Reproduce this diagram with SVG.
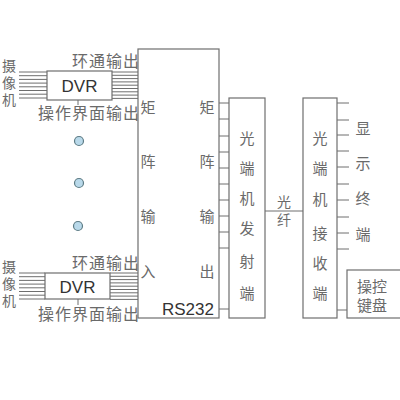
<svg xmlns="http://www.w3.org/2000/svg" width="400" height="400" viewBox="0 0 400 400">
<style>
.box{fill:#fff;stroke:#6e6e6e;stroke-width:1.2}
.ln{stroke:#6e6e6e;stroke-width:1;fill:none}
.cn{font-family:"Noto Sans CJK SC","Noto Sans CJK JP",sans-serif;font-size:15px;fill:#6a6a6a;text-anchor:middle;dominant-baseline:central}
.vt{font-family:"Noto Sans CJK SC","Noto Sans CJK JP",sans-serif;font-size:14px;fill:#6a6a6a;writing-mode:vertical-rl;text-orientation:upright;letter-spacing:3px;text-anchor:middle;dominant-baseline:central}
.cl{font-family:"Noto Sans CJK SC",sans-serif;font-size:16px;letter-spacing:1px;fill:#6a6a6a;text-anchor:end;dominant-baseline:central}
.en{font-family:"Liberation Sans",Arial,sans-serif;font-size:17px;fill:#333;text-anchor:middle;dominant-baseline:central}
.dot{fill:#b9d9ea;stroke:#5d7c85;stroke-width:1.2}
</style>
<rect width="400" height="400" fill="#fff"/>
<g id="connectors">
  <path class="ln" d="M19 72H47M19 75.7H47M19 79.4H47M19 83.1H47M19 86.8H47M19 90.5H47M19 94.2H47M19 98H47"/>
  <path class="ln" d="M112 72H138M112 75.3H138M112 78.6H138M112 81.9H138M112 85.2H138M112 88.5H138M112 91.8H138M112 95.1H138M112 98.4H138"/>
  <path class="ln" d="M78 100V105"/>
  <path class="ln" d="M19 273H45M19 276.7H45M19 280.4H45M19 284.1H45M19 287.8H45M19 291.5H45M19 295.2H45M19 299H45"/>
  <path class="ln" d="M110 273H138M110 276.3H138M110 279.6H138M110 282.9H138M110 286.2H138M110 289.5H138M110 292.8H138M110 296.1H138M110 299.4H138"/>
  <path class="ln" d="M78 299V305"/>
  <path class="ln" d="M219 103H229M219 119H229M219 136H229M219 152H229M219 168H229M219 184H229M219 200H229M219 216H229M219 232H229M219 248H229M219 309H229"/>
  <path class="ln" d="M265 211H303"/>
  <path class="ln" d="M337 103H349M337 120H349M337 135H349M337 151H349M337 167H349M337 184H349M337 200H349M337 217H349M337 233H349M337 249H349M337 310H347"/>
</g>
<g id="dvr1">
  <rect class="box" x="47" y="71" width="65" height="29"/>
  <text class="en" x="79.5" y="86">DVR</text>
</g>
<g id="dvr2">
  <rect class="box" x="45" y="273" width="65" height="26"/>
  <text class="en" x="77.5" y="287">DVR</text>
</g>
<g id="cam1">
  <text class="vt" x="9" y="84.5">摄像机</text>
</g>
<g id="cam2">
  <text class="vt" x="9" y="285.5">摄像机</text>
</g>
<g id="labels">
  <text class="cl" x="140" y="60">环通输出</text>
  <text class="cl" x="140" y="112">操作界面输出</text>
  <text class="cl" x="140" y="262">环通输出</text>
  <text class="cl" x="140" y="313">操作界面输出</text>
</g>
<g id="dots">
  <circle class="dot" cx="79" cy="141" r="4.5"/>
  <circle class="dot" cx="79" cy="183" r="4.5"/>
  <circle class="dot" cx="78" cy="226" r="4.5"/>
</g>
<g id="matrix">
  <rect class="box" x="138" y="49" width="81" height="269"/>
  <text class="cn" x="148" y="106">矩</text>
  <text class="cn" x="148" y="160">阵</text>
  <text class="cn" x="148" y="215">输</text>
  <text class="cn" x="148" y="270">入</text>
  <text class="cn" x="207" y="106">矩</text>
  <text class="cn" x="207" y="160">阵</text>
  <text class="cn" x="207" y="215">输</text>
  <text class="cn" x="207" y="270">出</text>
  <text class="en" x="188" y="309">RS232</text>
</g>
<g id="transmitter">
  <rect class="box" x="229" y="98" width="36" height="220"/>
  <text class="cn" x="247" y="137">光</text>
  <text class="cn" x="247" y="167">端</text>
  <text class="cn" x="247" y="197">机</text>
  <text class="cn" x="247" y="227">发</text>
  <text class="cn" x="247" y="260">射</text>
  <text class="cn" x="247" y="292">端</text>
</g>
<g id="fiber">
  <text class="vt" x="284" y="212.5" style="letter-spacing:4px">光纤</text>
</g>
<g id="receiver">
  <rect class="box" x="303" y="98" width="34" height="220"/>
  <text class="cn" x="320" y="137">光</text>
  <text class="cn" x="320" y="167">端</text>
  <text class="cn" x="320" y="198">机</text>
  <text class="cn" x="320" y="232">接</text>
  <text class="cn" x="320" y="262">收</text>
  <text class="cn" x="320" y="292">端</text>
</g>
<g id="display">
  <text class="cn" x="363" y="127">显</text>
  <text class="cn" x="363" y="162">示</text>
  <text class="cn" x="363" y="197">终</text>
  <text class="cn" x="363" y="233">端</text>
</g>
<g id="keyboard">
  <rect class="box" x="347" y="270" width="60" height="48"/>
  <text class="cn" x="372" y="285">操控</text>
  <text class="cn" x="372" y="304">键盘</text>
</g>
</svg>
